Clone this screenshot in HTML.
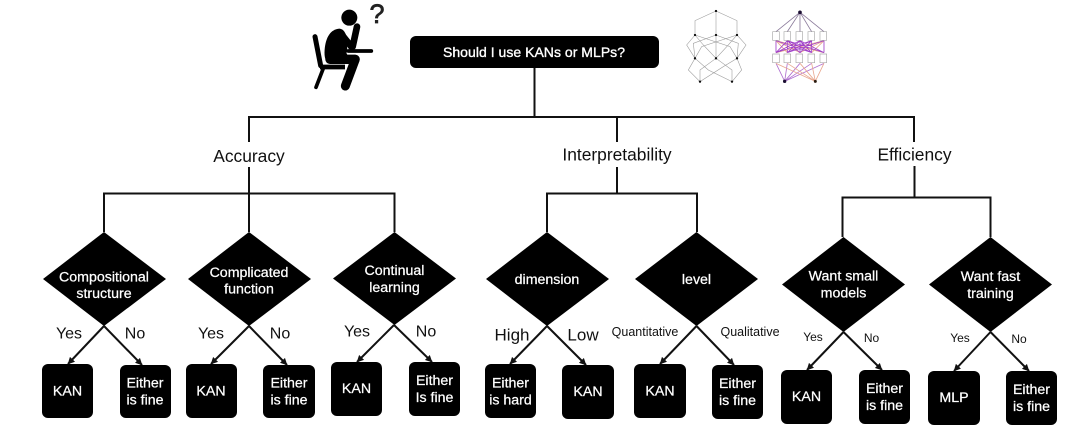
<!DOCTYPE html>
<html><head><meta charset="utf-8"><style>
html,body{margin:0;padding:0;background:#fff;width:1080px;height:439px;overflow:hidden}
svg{display:block}
text{font-family:"Liberation Sans",sans-serif;text-anchor:middle;dominant-baseline:central}
.w{fill:#fff;font-size:14.2px;stroke:#fff;stroke-width:.25}
.k{fill:#111}
.c{stroke:#111;stroke-width:2;fill:none}
.a{stroke:#111;stroke-width:2}
</style></head><body>
<svg width="1080" height="439" viewBox="0 0 1080 439" xmlns="http://www.w3.org/2000/svg">
<defs>
<marker id="h" markerWidth="8" markerHeight="7" refX="6.5" refY="3.5" orient="auto" markerUnits="userSpaceOnUse"><path d="M0,0 L7,3.5 L0,7 Z" fill="#111"/></marker>
<filter id="b" x="-5%" y="-5%" width="110%" height="110%"><feGaussianBlur stdDeviation="0.35"/></filter>
</defs>

<!-- connectors -->
<path class="c" d="M534.5 67V117M249 142V117H914V142M617 117V142"/>
<path class="c" d="M249 167V232M104 232V193.5H394.5V232"/>
<path class="c" d="M617 167V193.5M547 232V193.5H697V232"/>
<path class="c" d="M914.5 166V197.5M842.5 237V197.5H990.5V237"/>

<!-- top box -->
<rect x="410" y="36" width="249" height="32" rx="6" fill="#000"/>
<text x="534" y="52" class="w" style="font-size:14px;stroke-width:.35" textLength="182">Should I use KANs or MLPs?</text>

<!-- category labels -->
<text x="249" y="156" class="k" font-size="17.4">Accuracy</text>
<text x="617" y="154.500" class="k" font-size="17.4">Interpretability</text>
<text x="914.500" y="154.500" class="k" font-size="17.4">Efficiency</text>

<!-- diamonds -->
<g fill="#000">
<polygon points="104,232 166,279 104,326 43,279"/>
<polygon points="249,232 311,279 249,326 188,279"/>
<polygon points="394.500,232 456,278.500 394.500,325 333,278.500"/>
<polygon points="547,232 609,279 547,326 486,279"/>
<polygon points="696.500,232 758,279 696.500,326 635,279"/>
<polygon points="843.500,237 905,284.500 843.500,332 782,284.500"/>
<polygon points="990.500,237 1052,284.500 990.500,332 929,284.500"/>
</g>
<text x="104" y="277.500" class="w">Compositional</text><text x="104" y="294" class="w">structure</text>
<text x="249" y="273" class="w">Complicated</text><text x="249" y="289.500" class="w">function</text>
<text x="394.500" y="271" class="w">Continual</text><text x="394.500" y="288" class="w">learning</text>
<text x="547" y="280" class="w">dimension</text>
<text x="696.500" y="280" class="w">level</text>
<text x="843.500" y="276.500" class="w">Want small</text><text x="843.500" y="293.500" class="w">models</text>
<text x="990.500" y="277" class="w">Want fast</text><text x="990.500" y="294" class="w">training</text>

<!-- arrows -->
<g class="a">
<line x1="104" y1="326" x2="68" y2="364" marker-end="url(#h)"/>
<line x1="104" y1="326" x2="142" y2="365" marker-end="url(#h)"/>
<line x1="249" y1="326" x2="211" y2="364" marker-end="url(#h)"/>
<line x1="249" y1="326" x2="287" y2="365" marker-end="url(#h)"/>
<line x1="394" y1="325" x2="357" y2="362" marker-end="url(#h)"/>
<line x1="394" y1="325" x2="432" y2="362" marker-end="url(#h)"/>
<line x1="547" y1="326" x2="510" y2="364" marker-end="url(#h)"/>
<line x1="547" y1="326" x2="586" y2="365" marker-end="url(#h)"/>
<line x1="696.500" y1="326" x2="660" y2="364" marker-end="url(#h)"/>
<line x1="696.500" y1="326" x2="734" y2="365" marker-end="url(#h)"/>
<line x1="843.500" y1="332" x2="807" y2="370" marker-end="url(#h)"/>
<line x1="843.500" y1="332" x2="882" y2="370" marker-end="url(#h)"/>
<line x1="990.500" y1="332" x2="954" y2="371" marker-end="url(#h)"/>
<line x1="990.500" y1="332" x2="1029" y2="371" marker-end="url(#h)"/>
</g>

<!-- branch labels -->
<g class="k" font-size="16">
<text x="69" y="334">Yes</text><text x="135" y="334">No</text>
<text x="211" y="334">Yes</text><text x="280" y="334">No</text>
<text x="357" y="332">Yes</text><text x="426" y="332">No</text>
<text x="512" y="335" font-size="17">High</text><text x="583" y="335" font-size="17">Low</text>
<text x="645" y="332" font-size="12.500">Quantitative</text><text x="750" y="332" font-size="12.500">Qualitative</text>
<text x="813" y="337" font-size="12">Yes</text><text x="871.500" y="338" font-size="12">No</text>
<text x="960" y="338" font-size="12">Yes</text><text x="1019" y="339" font-size="12">No</text>
</g>

<!-- outcome boxes -->
<g fill="#000">
<rect x="42" y="364" width="51" height="54" rx="6"/>
<rect x="120" y="365" width="51" height="53" rx="6"/>
<rect x="186" y="364" width="51" height="54" rx="6"/>
<rect x="263" y="365" width="52" height="53" rx="6"/>
<rect x="331" y="362" width="51" height="54" rx="6"/>
<rect x="409" y="362" width="51" height="54" rx="6"/>
<rect x="485" y="364" width="51" height="54" rx="6"/>
<rect x="562" y="365" width="52" height="54" rx="6"/>
<rect x="634" y="364" width="52" height="54" rx="6"/>
<rect x="712" y="365" width="51" height="54" rx="6"/>
<rect x="781" y="370" width="51" height="54" rx="6"/>
<rect x="859" y="370" width="51" height="54" rx="6"/>
<rect x="928" y="371" width="52" height="54" rx="6"/>
<rect x="1006" y="371" width="51" height="54" rx="6"/>
</g>
<text x="67.500" y="391.500" class="w">KAN</text>
<text x="145" y="383.500" class="w">Either</text><text x="145" y="400.500" class="w">is fine</text>
<text x="211" y="391.500" class="w">KAN</text>
<text x="289" y="383.500" class="w">Either</text><text x="289" y="400.500" class="w">is fine</text>
<text x="356.500" y="389" class="w">KAN</text>
<text x="434.500" y="381" class="w">Either</text><text x="434.500" y="398" class="w">Is fine</text>
<text x="510.500" y="383.500" class="w">Either</text><text x="510.500" y="400.500" class="w">is hard</text>
<text x="588" y="392" class="w">KAN</text>
<text x="660" y="391.500" class="w">KAN</text>
<text x="737.500" y="384" class="w">Either</text><text x="737.500" y="401" class="w">is fine</text>
<text x="806.500" y="397" class="w">KAN</text>
<text x="884.500" y="389" class="w">Either</text><text x="884.500" y="406" class="w">is fine</text>
<text x="954" y="398" class="w">MLP</text>
<text x="1031.500" y="390" class="w">Either</text><text x="1031.500" y="407" class="w">is fine</text>

<!-- person icon -->
<g transform="translate(300 0) scale(.3333)">
<circle cx="148" cy="53" r="24" fill="#000"/>
<path d="M45 110L62 197" stroke="#000" stroke-width="15" stroke-linecap="round" fill="none"/>
<path d="M60 201H135" stroke="#000" stroke-width="14" fill="none"/>
<path d="M70 205L48 262" stroke="#000" stroke-width="11" stroke-linecap="round" fill="none"/>
<path d="M118 86C92 88 77 112 74 148C72 172 76 188 92 192L140 190L142 150L138 105C134 94 128 87 118 86Z" fill="#000"/>
<path d="M90 178L165 178" stroke="#000" stroke-width="28" stroke-linecap="round" fill="none"/>
<path d="M166 178L136 258" stroke="#000" stroke-width="27" stroke-linecap="round" fill="none"/>
<path d="M122 100L154 140" stroke="#000" stroke-width="20" stroke-linecap="round" fill="none"/>
<path d="M158 140L171 80" stroke="#000" stroke-width="20" stroke-linecap="round" fill="none"/>
<path d="M140 159H214" stroke="#fff" stroke-width="6" fill="none"/>
<path d="M145 153H214" stroke="#000" stroke-width="11" stroke-linecap="round" fill="none"/>
</g>
<text x="377" y="14" font-size="27" fill="#222" style="stroke:#222;stroke-width:.7">?</text>

<!-- KAN network icon -->
<g filter="url(#b)">
<g transform="translate(670 0) scale(.3333)" fill="none" stroke="#999" stroke-width="1.700">
<path d="M138 33L75 62L75 105M138 33L138 105M138 33L201 62L201 105"/>
<path d="M75 105L50 135L75 175M75 105L100 135L138 175M75 105L180 140L201 175M138 105L70 130L75 175M138 105L138 150L138 175M138 105L205 130L201 175M201 105L95 140L75 175M201 105L175 135L138 175M201 105L228 135L201 175"/>
<path d="M75 175L55 210L90 245M75 175L115 210L186 245M138 175L90 210L90 245M138 175L186 210L186 245M201 175L160 200L90 245M201 175L215 210L186 245"/>
</g>
<g transform="translate(670 0) scale(.3333)" fill="#111">
<circle cx="138" cy="33" r="3.500"/><circle cx="75" cy="105" r="3.500"/><circle cx="138" cy="105" r="3.500"/><circle cx="201" cy="105" r="3.500"/><circle cx="75" cy="175" r="3.500"/><circle cx="138" cy="175" r="3.500"/><circle cx="201" cy="175" r="3.500"/><circle cx="90" cy="245" r="3.500"/><circle cx="186" cy="245" r="3.500"/>
</g>

<!-- MLP network icon -->
<g transform="translate(670 0) scale(.3333)" fill="none" stroke-width="2.500">
<path stroke="#8a7a9a" d="M390 37L318 95M390 37L352 95M390 37L390 95M390 37L425 95M390 37L462 95"/>
<path stroke="#e8a890" d="M318 122L462 158M462 122L318 158M318 122L390 158M462 122L390 158M318 122L352 158M462 122L425 158"/>
<path stroke="#a040c8" d="M318 122L425 158M352 122L462 158M352 122L318 158M390 122L318 158M390 122L462 158M425 122L352 158M462 122L352 158M318 122V158M352 122V158M390 122V158M425 122V158M462 122V158M352 122L425 158M425 122L318 158M352 122L390 158M425 122L390 158M390 122L352 158M390 122L425 158"/>
<path stroke="#b070d0" d="M318 190L344 244M352 190L344 244M390 190L344 244M425 190L344 244M462 190L344 244"/>
<path stroke="#e8a890" d="M318 190L436 244M352 190L436 244M390 190L436 244M425 190L436 244M462 190L436 244"/>
<path stroke="#aaa" stroke-width="2" d="M308 95h20v26h-20zM342 95h20v26h-20zM378 95h20v26h-20zM414 95h20v26h-20zM450 95h20v26h-20zM308 162h20v26h-20zM342 162h20v26h-20zM378 162h20v26h-20zM414 162h20v26h-20zM450 162h20v26h-20z"/>
<circle cx="390" cy="37" r="5.500" fill="#1a1030" stroke="none"/>
<circle cx="344" cy="244" r="5" fill="#1a1030" stroke="none"/>
<circle cx="436" cy="244" r="4.500" fill="#2a1a10" stroke="none"/>
</g>
</g>
</svg>
</body></html>
